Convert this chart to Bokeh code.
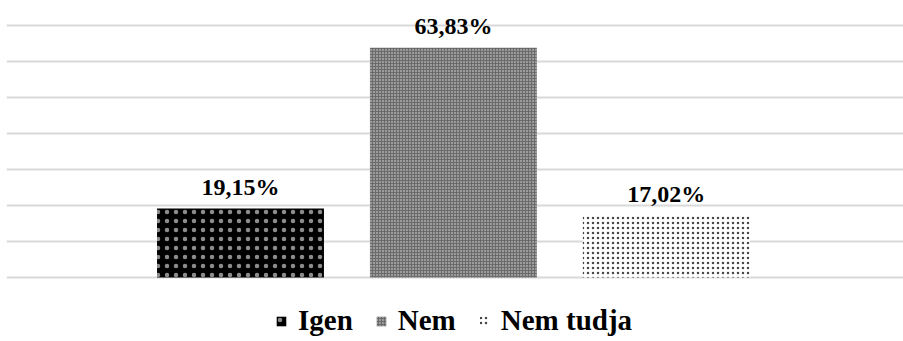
from bokeh.plotting import figure
from bokeh.models import ColumnDataSource, Range1d, FixedTicker, Legend, LegendItem
from bokeh.core.properties import value
from bokeh.embed import file_html
from bokeh.resources import INLINE

# ---- data ----
categories = ["Igen", "Nem", "Nem tudja"]
percents = [19.15, 63.83, 17.02]
grid_ticks = [0, 10, 20, 30, 40, 50, 60, 70]

# ---- styles ----
FONT = "'Liberation Serif', 'Times New Roman', serif"
fills = ["#000000", "#6b6b6b", "#ffffff"]
hatch_colors = ["#ffffff", "#ffffff", "#333333"]
hatch_scales = [9, 3, 5]
hatch_weights = [0.3, 0.4, 0.5]
hatch_alphas = [0.55, 0.8, 0.9]

xs = [i + 0.5 for i in range(len(categories))]
labels = [("%.2f" % v).replace(".", ",") + "%" for v in percents]

p = figure(width=903, height=341, output_backend="svg", toolbar_location=None,
           x_range=Range1d(-0.599, 3.614), y_range=Range1d(-17.78, 76.94),
           min_border_left=6, min_border_right=0, min_border_top=0, min_border_bottom=0)
p.outline_line_color = None
p.background_fill_color = "white"
p.border_fill_color = "white"
p.xaxis.visible = False
p.yaxis.visible = False
p.xgrid.visible = False
p.yaxis.ticker = FixedTicker(ticks=grid_ticks)
p.ygrid.ticker = FixedTicker(ticks=grid_ticks)
p.ygrid.grid_line_color = "#d9d9d9"
p.ygrid.grid_line_width = 2

items = []
for i, c in enumerate(categories):
    src = ColumnDataSource(dict(x=[xs[i]], top=[percents[i]]))
    r = p.vbar(x="x", top="top", bottom=0, width=0.784, source=src,
               fill_color=fills[i], line_color=None,
               hatch_pattern="dot", hatch_color=hatch_colors[i],
               hatch_scale=hatch_scales[i], hatch_weight=hatch_weights[i],
               hatch_alpha=hatch_alphas[i])
    items.append(LegendItem(label=c, renderers=[r]))

lsrc = ColumnDataSource(dict(x=xs, y=percents, t=labels))
p.text(x="x", y="y", text="t", source=lsrc, text_align="center",
       text_baseline="alphabetic", y_offset=-22,
       text_font=value(FONT), text_font_style="bold",
       text_font_size="24px", text_color="#000000")

legend = Legend(items=items, orientation="horizontal", location=(269, 4),
                glyph_width=12, glyph_height=12, label_standoff=11, spacing=22,
                padding=0, margin=0, background_fill_alpha=0, border_line_color=None,
                label_text_font=FONT, label_text_font_style="bold",
                label_text_font_size="29px", label_text_color="#000000")
p.add_layout(legend, "center")

open("out.html", "w").write(file_html(p, INLINE))
